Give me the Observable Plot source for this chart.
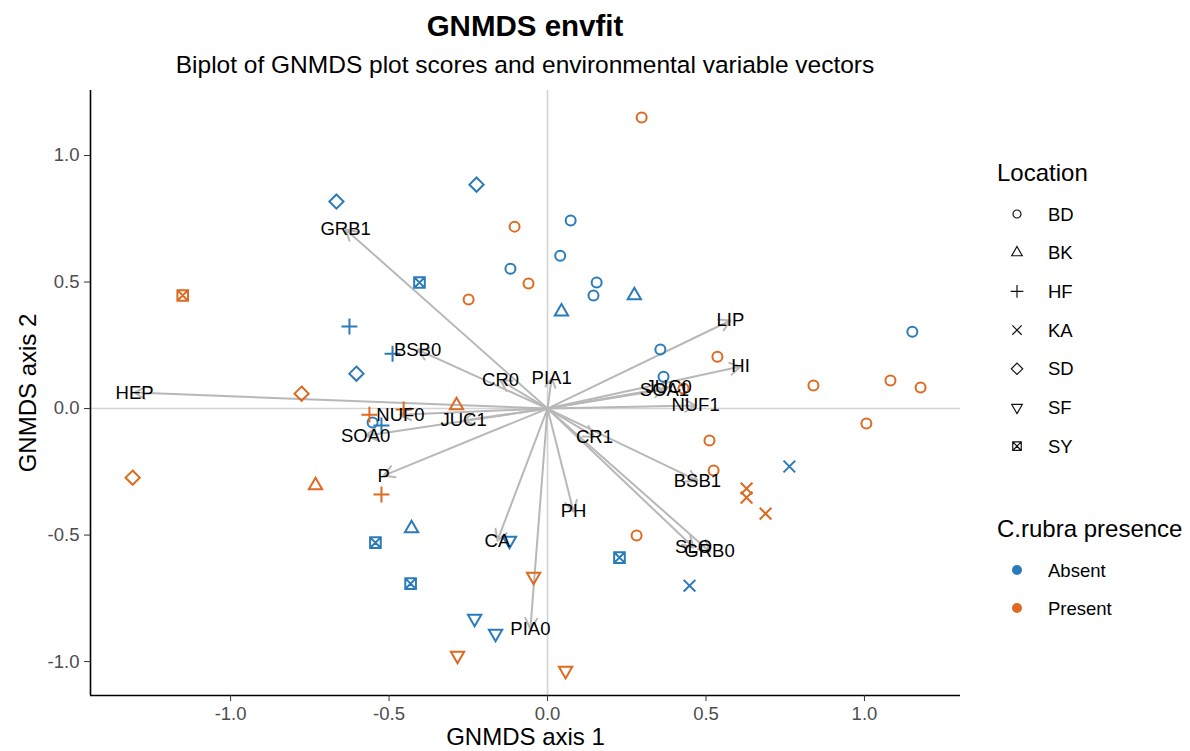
<!DOCTYPE html>
<html>
<head>
<meta charset="utf-8">
<script src="https://cdn.jsdelivr.net/npm/d3@7"></script>
<script src="https://cdn.jsdelivr.net/npm/@observablehq/plot@0.6"></script>
<style>
  body { margin: 0; background: #fff; font-family: "Liberation Sans", Arial, sans-serif; }
  #wrap { position: relative; width: 1190px; height: 751px; overflow: hidden; background: #fff; }
  #title { position: absolute; left: 90px; width: 870px; top: 9px; text-align: center;
           font-size: 29.5px; font-weight: bold; line-height: 34px; color: #000; }
  #subtitle { position: absolute; left: 90px; width: 870px; top: 51px; text-align: center;
              font-size: 24.5px; line-height: 28px; color: #000; }
  #chart { position: absolute; left: 0; top: 80px; }
  #legend { position: absolute; left: 990px; top: 0; }
</style>
</head>
<body>
<div id="wrap">
  <div id="title">GNMDS envfit</div>
  <div id="subtitle">Biplot of GNMDS plot scores and environmental variable vectors</div>
  <div id="chart"></div>
  <svg id="legend" width="200" height="751"></svg>
</div>
<script>
// Site scores on the two GNMDS axes
const locations = ["BD", "BK", "HF", "KA", "SD", "SF", "SY"];
const presenceLevels = ["Absent", "Present"];
const presenceColors = ["#2b7bba", "#dd6a20"];

const siteLocation = [
  "BD","BD","BD","BD","BD","BD","BD","BD","BD",
  "BD","BD","BD","BD","BD","BD","BD","BD","BD","BD","BD","BD","BD",
  "BK","BK","BK","BK","BK",
  "HF","HF","HF","HF","HF","HF",
  "KA","KA","KA","KA","KA",
  "SD","SD","SD","SD","SD",
  "SF","SF","SF","SF","SF","SF",
  "SY","SY","SY","SY","SY"
];
const sitePresence = [
  "Absent","Absent","Absent","Absent","Absent","Absent","Absent","Absent","Absent",
  "Present","Present","Present","Present","Present","Present","Present","Present","Present","Present","Present","Present","Present",
  "Absent","Absent","Absent","Present","Present",
  "Absent","Absent","Absent","Present","Present","Present",
  "Absent","Absent","Present","Present","Present",
  "Absent","Absent","Absent","Present","Present",
  "Absent","Absent","Absent","Present","Present","Present",
  "Absent","Absent","Absent","Absent","Present"
];
const siteX = [
  0.073, 0.040, -0.117, 0.155, 0.145, 0.356, 0.366, 1.151, -0.552,
  0.297, -0.104, -0.060, -0.249, 0.536, 0.839, 1.082, 1.177, 1.006, 0.511, 0.524, 0.281, 0.429,
  0.044, 0.274, -0.429, -0.287, -0.732,
  -0.625, -0.489, -0.524, -0.524, -0.454, -0.562,
  0.763, 0.448, 0.628, 0.628, 0.688,
  -0.666, -0.224, -0.603, -0.776, -1.309,
  -0.120, -0.230, -0.164, -0.044, -0.284, 0.057,
  -0.404, -0.543, -0.432, 0.227, -1.151
];
const siteY = [
  0.743, 0.604, 0.553, 0.498, 0.447, 0.233, 0.126, 0.304, -0.055,
  1.150, 0.719, 0.494, 0.431, 0.205, 0.091, 0.111, 0.083, -0.059, -0.126, -0.245, -0.502, 0.079,
  0.383, 0.447, -0.474, 0.012, -0.304,
  0.324, 0.217, -0.067, -0.340, -0.004, -0.024,
  -0.229, -0.700, -0.316, -0.352, -0.415,
  0.818, 0.885, 0.138, 0.059, -0.273,
  -0.522, -0.830, -0.889, -0.664, -0.976, -1.036,
  0.498, -0.530, -0.692, -0.589, 0.447
];

// Fitted environmental vectors (arrow tips)
const vecName = ["HEP","GRB1","BSB0","CR0","PIA1","LIP","HI","SOA1","JUC0","NUF1","CR1",
                 "BSB1","PH","SLO","GRB0","CA","PIA0","P","SOA0","NUF0","JUC1"];
const vecX = [-1.303, -0.637, -0.410, -0.148, 0.013, 0.577, 0.609, 0.369, 0.382, 0.467, 0.148,
              0.473, 0.082, 0.461, 0.511, -0.158, -0.054, -0.517, -0.574, -0.464, -0.265];
const vecY = [0.063, 0.708, 0.233, 0.111, 0.119, 0.348, 0.166, 0.075, 0.083, 0.012, -0.111,
              -0.285, -0.407, -0.549, -0.565, -0.522, -0.870, -0.265, -0.107, -0.024, -0.047];

const xTicks = [-1, -0.5, 0, 0.5, 1];
const yTicks = [-1, -0.5, 0, 0.5, 1];
const xDomain = [-1.442, 1.303];
const yDomain = [-1.134, 1.257];

const sites = siteX.map((x, i) => ({x, y: siteY[i], location: siteLocation[i], presence: sitePresence[i]}));
const vectors = vecName.map((name, i) => ({name, x: vecX[i], y: vecY[i]}));

// Open point shapes in the style of R pch 1–7, scaled from the symbol area
const shapes = {
  circle: d3.symbolCircle,
  triangle: {draw(c, size) {
    const s = Math.sqrt(size), a = 1.5 * s, h = a * Math.sqrt(3) / 2;
    c.moveTo(0, -2 * h / 3); c.lineTo(a / 2, h / 3); c.lineTo(-a / 2, h / 3); c.closePath();
  }},
  plus: {draw(c, size) {
    const r = 0.9 * Math.sqrt(size);
    c.moveTo(-r, 0); c.lineTo(r, 0); c.moveTo(0, -r); c.lineTo(0, r);
  }},
  times: {draw(c, size) {
    const r = 0.66 * Math.sqrt(size);
    c.moveTo(-r, -r); c.lineTo(r, r); c.moveTo(r, -r); c.lineTo(-r, r);
  }},
  diamond: {draw(c, size) {
    const r = 0.8 * Math.sqrt(size);
    c.moveTo(0, -r); c.lineTo(r, 0); c.lineTo(0, r); c.lineTo(-r, 0); c.closePath();
  }},
  triangleDown: {draw(c, size) {
    const s = Math.sqrt(size), a = 1.5 * s, h = a * Math.sqrt(3) / 2;
    c.moveTo(0, 2 * h / 3); c.lineTo(a / 2, -h / 3); c.lineTo(-a / 2, -h / 3); c.closePath();
  }},
  boxTimes: {draw(c, size) {
    const r = 0.6 * Math.sqrt(size);
    c.moveTo(-r, -r); c.lineTo(r, -r); c.lineTo(r, r); c.lineTo(-r, r); c.closePath();
    c.moveTo(-r, -r); c.lineTo(r, r); c.moveTo(r, -r); c.lineTo(-r, r);
  }}
};
const shapeRange = [shapes.circle, shapes.triangle, shapes.plus, shapes.times,
                    shapes.diamond, shapes.triangleDown, shapes.boxTimes];

const fmt = d => d.toFixed(1);

const chart = Plot.plot({
  width: 990,
  height: 671,
  marginTop: 10,
  marginBottom: 56,
  marginLeft: 90,
  marginRight: 30,
  style: {fontFamily: "'Liberation Sans', Arial, sans-serif", background: "white", overflow: "visible"},
  x: {domain: xDomain, label: null},
  y: {domain: yDomain, label: null},
  color: {domain: presenceLevels, range: presenceColors},
  symbol: {domain: locations, range: shapeRange},
  marks: [
    Plot.ruleX([0], {stroke: "#d4d4d4", strokeWidth: 1.6}),
    Plot.ruleY([0], {stroke: "#d4d4d4", strokeWidth: 1.6}),
    Plot.arrow(vectors, {x1: 0, y1: 0, x2: "x", y2: "y", stroke: "#b8b8b8", strokeWidth: 2,
                         headLength: 9, headAngle: 60}),
    Plot.dot(sites, {x: "x", y: "y", symbol: "location", stroke: "presence", fill: "none",
                     r: 5, strokeWidth: 2}),
    Plot.text(vectors, {x: "x", y: "y", text: "name", fontSize: 18.5, fill: "black"}),
    Plot.ruleX([xDomain[0]], {stroke: "black", strokeWidth: 1.6}),
    Plot.ruleY([yDomain[0]], {stroke: "black", strokeWidth: 1.6}),
    Plot.axisX({ticks: xTicks, tickFormat: fmt, tickSize: 6, tickPadding: 5, fontSize: 18.5,
                fill: "#4d4d4d", stroke: "#333", label: null}),
    Plot.axisY({ticks: yTicks, tickFormat: fmt, tickSize: 6, tickPadding: 5, fontSize: 18.5,
                fill: "#4d4d4d", stroke: "#333", label: null}),
    Plot.text(["GNMDS axis 1"], {frameAnchor: "bottom", dy: 42, fontSize: 24, fill: "black",
                                 textAnchor: "middle", lineAnchor: "middle"}),
    Plot.text(["GNMDS axis 2"], {frameAnchor: "left", dx: -62, rotate: -90, fontSize: 24, fill: "black",
                                 textAnchor: "middle", lineAnchor: "middle"})
  ]
});
document.getElementById("chart").appendChild(chart);

// Legend: shape key for location, colour key for presence
const legend = d3.select("#legend").style("font-family", "'Liberation Sans', Arial, sans-serif");
legend.append("text").attr("x", 7).attr("y", 172).attr("dy", "0.36em")
  .attr("font-size", 24).text("Location");
locations.forEach((loc, i) => {
  const y = 214 + i * 38.7;
  legend.append("path")
    .attr("transform", `translate(27,${y})`)
    .attr("d", d3.symbol(shapeRange[i], Math.PI * 16)())
    .attr("fill", "none").attr("stroke", "#111").attr("stroke-width", 1.2);
  legend.append("text").attr("x", 58).attr("y", y).attr("dy", "0.36em")
    .attr("font-size", 18.5).text(loc);
});
legend.append("text").attr("x", 7).attr("y", 528).attr("dy", "0.36em")
  .attr("font-size", 24).text("C.rubra presence");
presenceLevels.forEach((p, i) => {
  const y = 570 + i * 38;
  legend.append("circle").attr("cx", 27).attr("cy", y).attr("r", 5).attr("fill", presenceColors[i]);
  legend.append("text").attr("x", 58).attr("y", y).attr("dy", "0.36em")
    .attr("font-size", 18.5).text(p);
});
</script>
</body>
</html>
